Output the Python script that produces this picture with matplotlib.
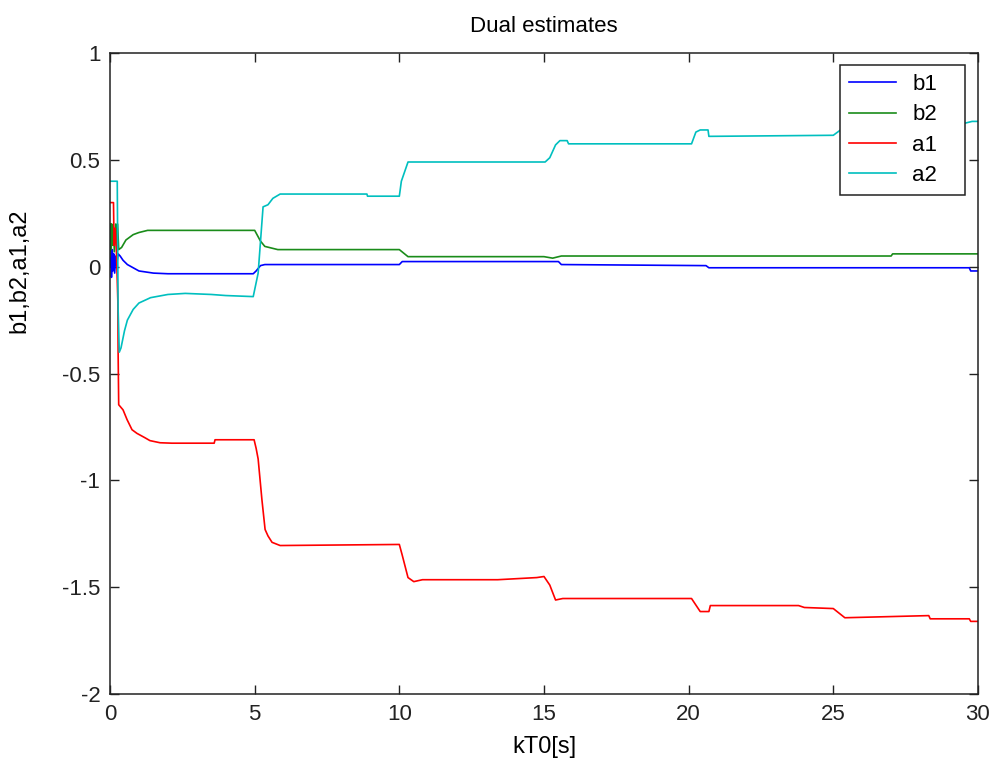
import matplotlib
matplotlib.use("Agg")
import matplotlib.pyplot as plt

# estimate histories: (time [s], value) breakpoints per parameter
t_b1 = [0, 0.03, 0.05, 0.08, 0.10, 0.13, 0.16, 0.20, 0.24, 0.28, 0.35, 0.45,
        0.6, 0.8, 1.0, 1.5, 2.0, 4.95, 5.05, 5.2, 5.35, 10.0, 10.1, 15.5,
        15.6, 20.6, 20.7, 29.7, 29.75, 30]
b1 = [0.0, 0.10, -0.05, 0.08, -0.02, 0.06, -0.03, 0.05, 0.02, 0.06, 0.05, 0.03,
      0.01, -0.005, -0.02, -0.03, -0.033, -0.033, -0.02, 0.005, 0.01, 0.01, 0.024, 0.024,
      0.01, 0.005, -0.005, -0.005, -0.02, -0.02]

t_b2 = [0, 0.02, 0.04, 0.06, 0.09, 0.12, 0.15, 0.20, 0.23, 0.26, 0.30, 0.40,
        0.55, 0.8, 1.0, 1.3, 5.0, 5.2, 5.35, 5.8, 10.0, 10.3, 15.0, 15.3,
        15.6, 27.0, 27.05, 30]
b2 = [0.05, 0.20, 0.08, 0.20, 0.10, 0.18, 0.07, 0.20, 0.10, 0.20, 0.08, 0.09,
      0.125, 0.15, 0.16, 0.17, 0.17, 0.12, 0.095, 0.08, 0.08, 0.047, 0.047, 0.04,
      0.05, 0.05, 0.06, 0.06]

t_a1 = [0, 0.12, 0.14, 0.18, 0.22, 0.27, 0.28, 0.30, 0.45, 0.59, 0.76, 0.93,
        1.2, 1.38, 1.73, 2.14, 3.6, 3.63, 4.98, 5.05, 5.12, 5.25, 5.36, 5.46,
        5.6, 5.88, 10.0, 10.1, 10.3, 10.5, 10.8, 13.4, 14.75, 15.0,
        15.2, 15.4, 15.65, 20.1, 20.4, 20.7, 20.75, 23.8, 24.0, 25.0, 25.4,
        28.3, 28.35, 29.7, 29.75, 30]
a1 = [0.30, 0.30, 0.10, 0.18, 0.08, -0.16, -0.40, -0.646, -0.67, -0.716, -0.763, -0.78,
      -0.80, -0.814, -0.824, -0.826, -0.826, -0.81, -0.81, -0.85, -0.90, -1.09, -1.23, -1.26,
      -1.29, -1.305, -1.30, -1.35, -1.455, -1.474, -1.465, -1.465, -1.455, -1.45,
      -1.49, -1.56, -1.553, -1.553, -1.614, -1.614, -1.586, -1.586, -1.595, -1.60, -1.643,
      -1.633, -1.648, -1.648, -1.66, -1.66]

t_a2 = [0, 0.25, 0.28, 0.32, 0.38, 0.5, 0.6, 0.8, 1.0, 1.4, 2.0, 2.6, 3.5,
        4.0, 4.95, 5.12, 5.29, 5.46, 5.63, 5.88, 8.88, 8.9, 10.0, 10.07, 10.3,
        10.6, 15.04, 15.2, 15.3, 15.4, 15.55, 15.8, 15.85, 20.1, 20.25, 20.4,
        20.67, 20.7, 25.0, 25.3, 29.5, 29.8, 30]
a2 = [0.40, 0.40, -0.20, -0.40, -0.38, -0.30, -0.25, -0.20, -0.17, -0.145, -0.13, -0.125, -0.13,
      -0.135, -0.14, -0.03, 0.28, 0.29, 0.32, 0.34, 0.34, 0.33, 0.33, 0.40, 0.49,
      0.49, 0.49, 0.51, 0.54, 0.57, 0.59, 0.59, 0.575, 0.575, 0.63, 0.64,
      0.64, 0.61, 0.615, 0.645, 0.67, 0.68, 0.68]

names = ["b1", "b2", "a1", "a2"]
colors = ["#0000ff", "#1a8c1a", "#ff0000", "#00bfbf"]

plt.rcParams["font.family"] = ["Liberation Sans", "DejaVu Sans"]

fig = plt.figure(figsize=(10.02, 7.63), dpi=100)
ax = fig.add_axes([0.1098, 0.0904, 0.8662, 0.8401])

for t, v, name, c in zip([t_b1, t_b2, t_a1, t_a2], [b1, b2, a1, a2], names, colors):
    ax.plot(t, v, color=c, lw=1.2, label=name)

ax.set_xlim(0, 30)
ax.set_ylim(-2, 1)
ax.set_xticks(range(0, 31, 5))
ax.set_yticks([-2, -1.5, -1, -0.5, 0, 0.5, 1])
ax.set_yticklabels(["-2", "-1.5", "-1", "-0.5", "0", "0.5", "1"])
ax.tick_params(direction="in", length=6.5, width=1, top=True, right=True,
               labelsize=16, colors="#222222", pad=7)
for s in ax.spines.values():
    s.set_linewidth(1.1)
    s.set_color("#222222")

ax.set_title("Dual estimates", fontsize=16, pad=15)
ax.set_xlabel("kT0[s]", fontsize=17, labelpad=8)
ax.set_ylabel("b1,b2,a1,a2", fontsize=17)
ax.yaxis.set_label_coords(-0.092, 0.66)

# fixed-width legend box in the upper right corner
leg = ax.legend(loc="upper left", bbox_to_anchor=(0.841, 0.5, 0.144, 0.481),
                mode="expand", borderaxespad=0, fontsize=16, fancybox=False,
                framealpha=1, edgecolor="#222222", handlelength=2.1,
                borderpad=0.4, labelspacing=0.42, handletextpad=0.75)
leg.get_frame().set_linewidth(1.1)

fig.savefig("out.png", dpi=100)
